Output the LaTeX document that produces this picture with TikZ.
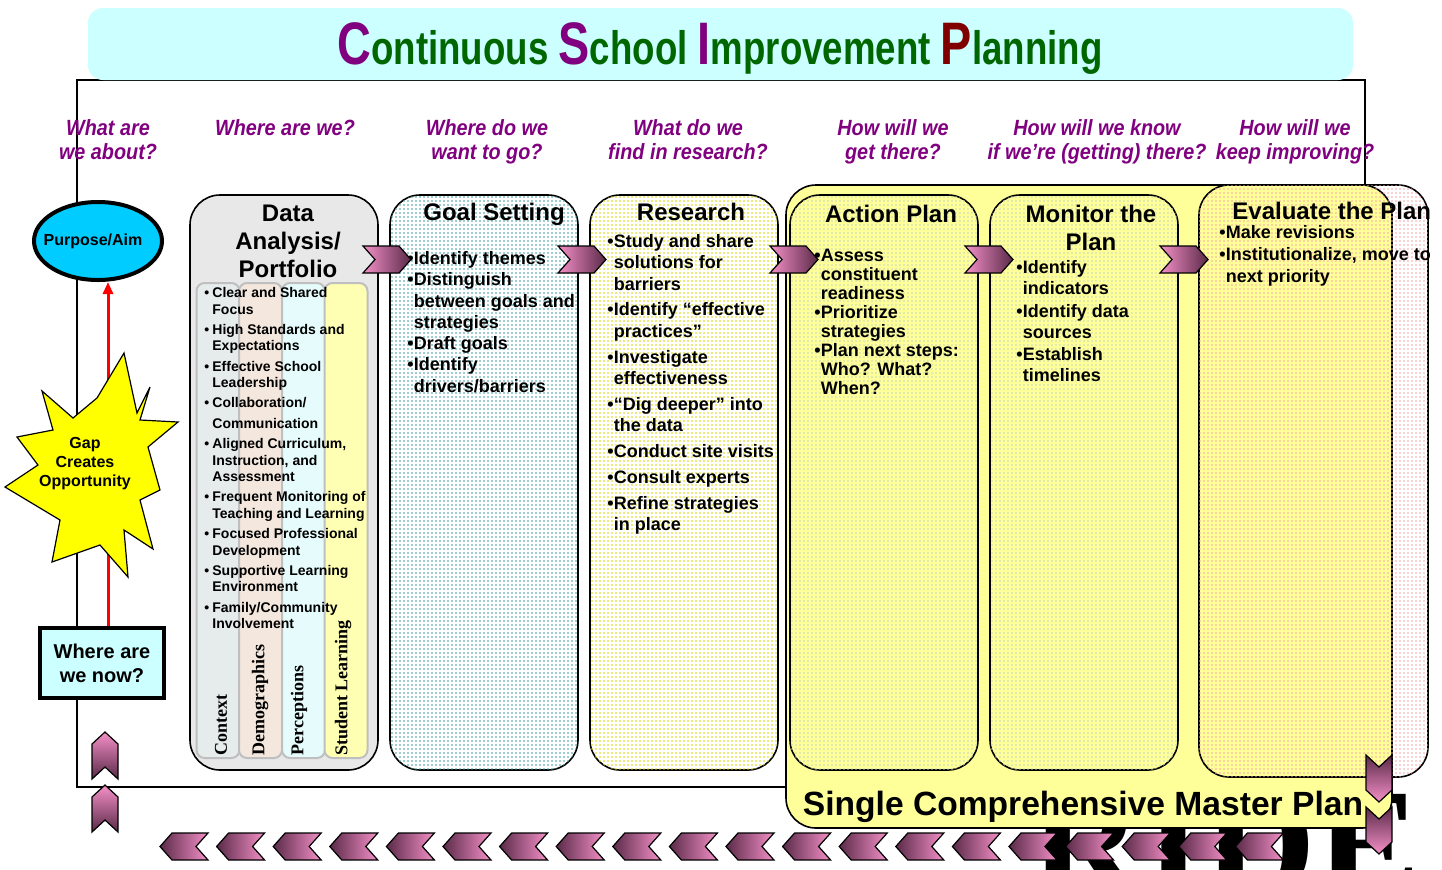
\documentclass[tikz,border=0pt]{standalone}
\usepackage{fontspec}
\setmainfont{Liberation Sans}
\newfontfamily\titlefont[FakeStretch=0.78]{Liberation Sans}
\newfontfamily\askfont[FakeStretch=0.9]{Liberation Sans}
\newfontfamily\timesfont{Liberation Serif}
\usepackage{tikz}
\usetikzlibrary{positioning,arrows.meta,shapes.geometric,patterns.meta}

\definecolor{titlecyan}{HTML}{CCFFFF}
\definecolor{aimblue}{HTML}{00CCFF}
\definecolor{askpurple}{HTML}{800080}
\definecolor{titlegreen}{HTML}{006600}
\definecolor{initred}{HTML}{800000}
\definecolor{planyellow}{HTML}{FFFF99}
\definecolor{gapyellow}{HTML}{FFFF00}
\definecolor{chevpink}{HTML}{F590C8}
\definecolor{chevdark}{HTML}{5A2A48}
\definecolor{datagray}{HTML}{E8E8E8}
\definecolor{ctxfill}{HTML}{E6ECEC}
\definecolor{demofill}{HTML}{F4E8DE}
\definecolor{percfill}{HTML}{E6FCFC}
\definecolor{learnfill}{HTML}{FFFFB4}
\definecolor{goaldot}{HTML}{3C9C9C}
\definecolor{researchdot}{HTML}{D8D800}
\definecolor{actiondot}{HTML}{C8D8C0}
\definecolor{evaldot}{HTML}{F4A8A8}

% big coloured initials of the title
\newcommand{\capl}[2][askpurple]{{\color{#1}\fontsize{30}{30}\selectfont #2}}
% bullets and hanging indents for the lists
\newcommand{\bu}{\makebox[3.2pt][l]{\textbullet}}
\newcommand{\nx}{\hspace*{3.2pt}}
\newcommand{\dbu}{\makebox[4pt][l]{\textbullet}}
\newcommand{\dnx}{\hspace*{4pt}}

\begin{document}
\begin{tikzpicture}[
  x=0.5pt, y=-0.5pt,
  every node/.style={inner sep=0pt},
  frame/.style={draw, line width=0.7pt},
  titlebox/.style={fill=titlecyan, rounded corners=7.5pt, minimum width=632.5pt, minimum height=36pt},
  question/.style={anchor=north, align=center, text=askpurple, font=\askfont\bfseries\itshape\fontsize{11}{12}\selectfont},
  aim/.style={ellipse, draw, line width=2pt, fill=aimblue, minimum width=64pt, minimum height=39pt},
  nowbox/.style={draw, line width=2pt, fill=titlecyan, minimum width=62pt, minimum height=35pt, align=center, font=\bfseries\fontsize{10}{12}\selectfont},
  burst/.style={draw, line width=0.6pt, fill=gapyellow},
  aimarrow/.style={draw=red, line width=1.5pt, -{Triangle[length=6pt, width=5pt]}},
  stagebox/.style={draw, line width=0.8pt, rounded corners=15pt, minimum width=94pt, minimum height=287.5pt},
  masterbox/.style={draw, line width=0.8pt, rounded corners=15pt, fill=planyellow, minimum width=303pt, minimum height=321.5pt},
  dotfill/.style={postaction={pattern={Dots[distance=2pt, radius=0.42pt]}, pattern color=#1}},
  stagehead/.style={anchor=north, align=center, font=\bfseries\fontsize{12}{14}\selectfont},
  stagelist/.style={anchor=north west, align=left, font=\bfseries\fontsize{9}{10.65}\selectfont},
  column/.style={draw=black!25, line width=1pt, rounded corners=4pt, minimum width=21.5pt, minimum height=237.5pt},
  colname/.style={rotate=90, anchor=west, font=\timesfont\bfseries\fontsize{9}{9}\selectfont},
  chevline/.style={draw=black, line width=0.6pt},
  chevR/.pic={\shade[chevline, left color=chevpink, right color=chevdark] (0,0) -- (36,0) -- (48,13.5) -- (36,27) -- (0,27) -- (12,13.5) -- cycle;},
  chevL/.pic={\shade[chevline, left color=chevdark, right color=chevpink] (0,13.5) -- (12,0) -- (48,0) -- (36,13.5) -- (48,27) -- (12,27) -- cycle;},
  chevU/.pic={\shade[chevline, top color=chevpink, bottom color=chevdark] (13,0) -- (26,12) -- (26,47) -- (13,35) -- (0,47) -- (0,12) -- cycle;},
  chevD/.pic={\shade[chevline, top color=chevdark, bottom color=chevpink] (0,0) -- (13,12) -- (26,0) -- (26,35) -- (13,47) -- (0,35) -- cycle;}
]
\useasboundingbox (0,0) rectangle (1442,869);
\node[anchor=base west, font=\timesfont\bfseries\fontsize{78}{78}\selectfont] (ride) at (1030,896) {RIDE};
\draw[frame] (77,80) rectangle (1365,787);

% title banner
\node[titlebox] (title) at (720.5,44) {};
\node[anchor=base, text=titlegreen, font=\titlefont\bfseries\fontsize{23.5}{24}\selectfont] (titletext) at (720,64)
  {\capl{C}ontinuous \capl{S}chool \capl{I}mprovement \capl[initred]{P}lanning};

% guiding questions
\node[question] (qabout) at (108,119) {What are\\we about?};
\node[question] (qwhere) at (285,119) {Where are we?};
\node[question] (qgo) at (487,119) {Where do we\\want to go?};
\node[question] (qfind) at (688,119) {What do we\\find in research?};
\node[question] (qget) at (893,119) {How will we\\get there?};
\node[question] (qknow) at (1097,119) {How will we know\\if we’re (getting) there?};
\node[question] (qkeep) at (1295,119) {How will we\\keep improving?};

% left column
\node[nowbox] (now) at (102,663) {Where are\\we now?};
\node[aim] (purpose) at (98,241) {};
\node[font=\bfseries\fontsize{8}{9}\selectfont] (aimtext) at (93,241) {Purpose/Aim};
\draw[aimarrow] ([xshift=3pt]now.north) -- ([xshift=3pt]now.north |- purpose.south);
\draw[burst] (124,353) -- (137,413) -- (150,387) -- (140,420) -- (178,422) -- (148,447) -- (160,490)
  -- (140,500) -- (153,549) -- (124,530) -- (128,577) -- (100,545) -- (52,562) -- (60,520) -- (5,487)
  -- (38,465) -- (17,437) -- (53,430) -- (42,391) -- (73,418) -- (97,398) -- cycle;
\node[align=center, font=\bfseries\fontsize{8}{9.5}\selectfont] (gap) at (85,464) {Gap\\Creates\\Opportunity};
\pic at (92,732) {chevU};
\pic at (92,785) {chevU};

% data portfolio
\node[stagebox, fill=datagray] (data) at (284,482.5) {};
\node[column, fill=ctxfill] (context) at (218,520.5) {};
\node[column, fill=demofill] (demographics) at (260.5,520.5) {};
\node[column, fill=percfill] (perceptions) at (303.5,520.5) {};
\node[column, fill=learnfill] (learning) at (346,520.5) {};
\node[colname] (contextname) at (221,756) {Context};
\node[colname] (demographicsname) at (260,756) {Demographics};
\node[colname] (perceptionsname) at (299,756) {Perceptions};
\node[colname] (learningname) at (343,756) {Student Learning};
\node[stagehead] (datahead) at (288,205) {Data\\Analysis/\\Portfolio};
\node[stagelist, font=\bfseries\fontsize{7}{8.25}\selectfont] (datalist) at (204,287) {%
  \dbu Clear and Shared\\ \dnx Focus\\[1.9pt]
  \dbu High Standards and\\ \dnx Expectations\\[1.9pt]
  \dbu Effective School\\ \dnx Leadership\\[1.9pt]
  \dbu Collaboration/\\[1.9pt] \dnx Communication\\[1.9pt]
  \dbu Aligned Curriculum,\\ \dnx Instruction, and\\ \dnx Assessment\\[1.9pt]
  \dbu Frequent Monitoring of\\ \dnx Teaching and Learning\\[1.9pt]
  \dbu Focused Professional\\ \dnx Development\\[1.9pt]
  \dbu Supportive Learning\\ \dnx Environment\\[1.9pt]
  \dbu Family/Community\\ \dnx Involvement};

% goal setting and research
\node[stagebox, fill=white, dotfill=goaldot] (goal) at (484,482.5) {};
\node[stagehead] (goalhead) at (494,203) {Goal Setting};
\node[stagelist] (goallist) at (407,251) {%
  \bu Identify themes\\ \bu Distinguish\\ \nx between goals and\\ \nx strategies\\
  \bu Draft goals\\ \bu Identify\\ \nx drivers/barriers};
\node[stagebox, fill=white, dotfill=researchdot] (research) at (684,482.5) {};
\node[stagehead] (researchhead) at (691,203) {Research};
\node[stagelist] (researchlist) at (607,234) {%
  \bu Study and share\\ \nx solutions for\\ \nx barriers\\[2.3pt]
  \bu Identify “effective\\ \nx practices”\\[2.3pt]
  \bu Investigate\\ \nx effectiveness\\[2.3pt]
  \bu “Dig deeper” into\\ \nx the data\\[2.3pt]
  \bu Conduct site visits\\[2.3pt]
  \bu Consult experts\\[2.3pt]
  \bu Refine strategies\\ \nx in place};

% master plan with its three stages
\node[masterbox] (master) at (1089,506.5) {};
\node[stagebox, fill=planyellow, dotfill=actiondot] (action) at (884,482.5) {};
\node[stagehead] (actionhead) at (891,205) {Action Plan};
\node[stagelist, font=\bfseries\fontsize{9}{9.5}\selectfont] (actionlist) at (814,249) {%
  \bu Assess\\ \nx constituent\\ \nx readiness\\ \bu Prioritize\\ \nx strategies\\
  \bu Plan next steps:\\ \nx Who? What?\\ \nx When?};
\node[stagebox, fill=planyellow, dotfill=actiondot] (monitor) at (1084,482.5) {};
\node[stagehead] (monitorhead) at (1091,205) {Monitor the\\Plan};
\node[stagelist] (monitorlist) at (1016,260) {%
  \bu Identify\\ \nx indicators\\[0.5pt] \bu Identify data\\ \nx sources\\[0.5pt]
  \bu Establish\\ \nx timelines};
\node[stagebox, minimum width=114.5pt, minimum height=296pt, dotfill=evaldot] (evaluate) at (1313.5,481) {};
\node[stagehead, anchor=north west] (evaluatehead) at (1232,202) {Evaluate the Plan};
\node[stagelist, font=\bfseries\fontsize{9}{10.9}\selectfont] (evaluatelist) at (1219,225) {%
  \bu Make revisions\\ \bu Institutionalize, move to\\ \nx next priority};
\node[anchor=base, font=\bfseries\fontsize{16.8}{18}\selectfont] (masterlabel) at (1083,815) {Single Comprehensive Master Plan};

% chevrons between the stages and round the cycle
\foreach \x in {363,558,770,965,1160}
  \pic at (\x,246) {chevR};
\pic at (1366,755) {chevD};
\pic at (1366,807) {chevD};
\foreach \i in {0,...,19}
  \pic at ({160+56.6*\i},833) {chevL};
\end{tikzpicture}
\end{document}
